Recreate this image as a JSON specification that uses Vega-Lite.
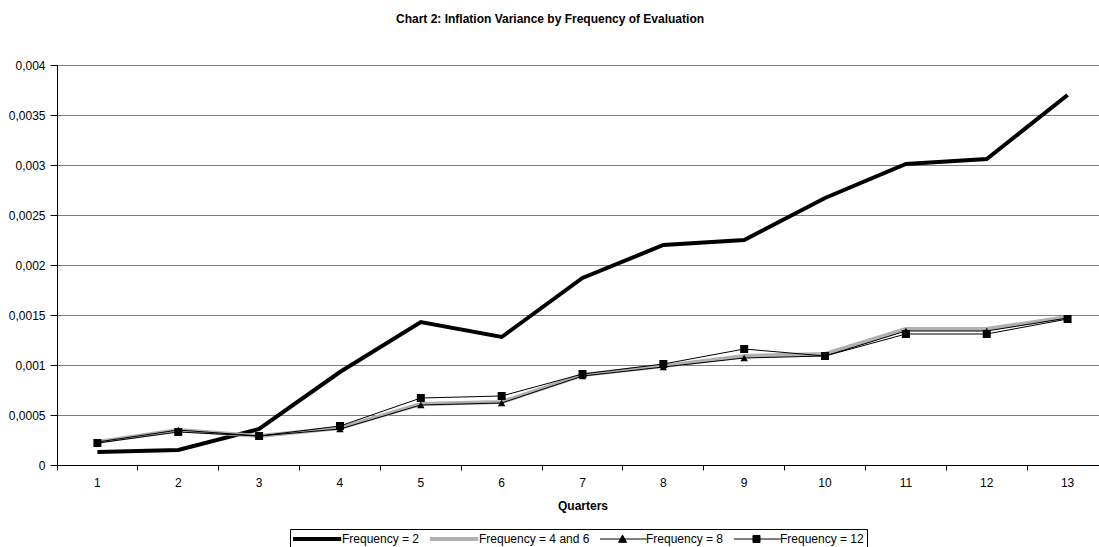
{
  "$schema": "https://vega.github.io/schema/vega-lite/v6.json",
  "width": 1042,
  "height": 400,
  "autosize": {"type": "none"},
  "padding": {"left": 57, "top": 65, "right": 0, "bottom": 82},
  "background": "white",
  "title": {
    "text": "Chart 2: Inflation Variance by Frequency of Evaluation",
    "font": "Liberation Sans",
    "fontSize": 12,
    "fontWeight": "bold",
    "color": "black",
    "anchor": "middle",
    "dx": -28,
    "baseline": "bottom",
    "offset": 21
  },
  "config": {
    "view": {"stroke": null},
    "font": "Liberation Sans",
    "axis": {
      "labelFont": "Liberation Sans",
      "labelFontSize": 12,
      "labelColor": "black",
      "titleFont": "Liberation Sans",
      "titleFontSize": 12,
      "titleFontWeight": "bold",
      "titleColor": "black",
      "domainColor": "black",
      "tickColor": "black"
    },
    "legend": {
      "orient": "none",
      "legendX": 233,
      "legendY": 464,
      "direction": "horizontal",
      "strokeColor": "black",
      "padding": 3,
      "labelFont": "Liberation Sans",
      "labelFontSize": 12,
      "labelColor": "black",
      "labelLimit": 300,
      "symbolSize": 1936,
      "symbolStrokeWidth": 1,
      "clipHeight": 14,
      "labelOffset": 1,
      "columnPadding": 10
    }
  },
  "data": {
    "values": [
      {"series": "Frequency = 2", "quarter": 1, "value": 0.00013},
      {"series": "Frequency = 2", "quarter": 2, "value": 0.00015},
      {"series": "Frequency = 2", "quarter": 3, "value": 0.00036},
      {"series": "Frequency = 2", "quarter": 4, "value": 0.00093},
      {"series": "Frequency = 2", "quarter": 5, "value": 0.00143},
      {"series": "Frequency = 2", "quarter": 6, "value": 0.00128},
      {"series": "Frequency = 2", "quarter": 7, "value": 0.00187},
      {"series": "Frequency = 2", "quarter": 8, "value": 0.0022},
      {"series": "Frequency = 2", "quarter": 9, "value": 0.00225},
      {"series": "Frequency = 2", "quarter": 10, "value": 0.00267},
      {"series": "Frequency = 2", "quarter": 11, "value": 0.00301},
      {"series": "Frequency = 2", "quarter": 12, "value": 0.00306},
      {"series": "Frequency = 2", "quarter": 13, "value": 0.0037},
      {"series": "Frequency = 4 and 6", "quarter": 1, "value": 0.00023},
      {"series": "Frequency = 4 and 6", "quarter": 2, "value": 0.00035},
      {"series": "Frequency = 4 and 6", "quarter": 3, "value": 0.00029},
      {"series": "Frequency = 4 and 6", "quarter": 4, "value": 0.00037},
      {"series": "Frequency = 4 and 6", "quarter": 5, "value": 0.00061},
      {"series": "Frequency = 4 and 6", "quarter": 6, "value": 0.00063},
      {"series": "Frequency = 4 and 6", "quarter": 7, "value": 0.0009},
      {"series": "Frequency = 4 and 6", "quarter": 8, "value": 0.00099},
      {"series": "Frequency = 4 and 6", "quarter": 9, "value": 0.00109},
      {"series": "Frequency = 4 and 6", "quarter": 10, "value": 0.00111},
      {"series": "Frequency = 4 and 6", "quarter": 11, "value": 0.00136},
      {"series": "Frequency = 4 and 6", "quarter": 12, "value": 0.00136},
      {"series": "Frequency = 4 and 6", "quarter": 13, "value": 0.00148},
      {"series": "Frequency = 8", "quarter": 1, "value": 0.00023},
      {"series": "Frequency = 8", "quarter": 2, "value": 0.00035},
      {"series": "Frequency = 8", "quarter": 3, "value": 0.00029},
      {"series": "Frequency = 8", "quarter": 4, "value": 0.00036},
      {"series": "Frequency = 8", "quarter": 5, "value": 0.0006},
      {"series": "Frequency = 8", "quarter": 6, "value": 0.00062},
      {"series": "Frequency = 8", "quarter": 7, "value": 0.00089},
      {"series": "Frequency = 8", "quarter": 8, "value": 0.00098},
      {"series": "Frequency = 8", "quarter": 9, "value": 0.00107},
      {"series": "Frequency = 8", "quarter": 10, "value": 0.00109},
      {"series": "Frequency = 8", "quarter": 11, "value": 0.00134},
      {"series": "Frequency = 8", "quarter": 12, "value": 0.00134},
      {"series": "Frequency = 8", "quarter": 13, "value": 0.00147},
      {"series": "Frequency = 12", "quarter": 1, "value": 0.00022},
      {"series": "Frequency = 12", "quarter": 2, "value": 0.00033},
      {"series": "Frequency = 12", "quarter": 3, "value": 0.00029},
      {"series": "Frequency = 12", "quarter": 4, "value": 0.00039},
      {"series": "Frequency = 12", "quarter": 5, "value": 0.00067},
      {"series": "Frequency = 12", "quarter": 6, "value": 0.00069},
      {"series": "Frequency = 12", "quarter": 7, "value": 0.00091},
      {"series": "Frequency = 12", "quarter": 8, "value": 0.00101},
      {"series": "Frequency = 12", "quarter": 9, "value": 0.00116},
      {"series": "Frequency = 12", "quarter": 10, "value": 0.00109},
      {"series": "Frequency = 12", "quarter": 11, "value": 0.00131},
      {"series": "Frequency = 12", "quarter": 12, "value": 0.00131},
      {"series": "Frequency = 12", "quarter": 13, "value": 0.00146}
    ]
  },
  "encoding": {
    "x": {
      "field": "quarter",
      "type": "ordinal",
      "bandPosition": 0.5,
      "scale": {"type": "band", "domain": [1,2,3,4,5,6,7,8,9,10,11,12,13], "range": [0, 1051], "paddingInner": 0, "paddingOuter": 0},
      "axis": {
        "title": "Quarters",
        "labelAngle": 0,
        "bandPosition": 0,
        "grid": false,
        "tickSize": 5,
        "labelPadding": 7,
        "titlePadding": 12
      }
    },
    "y": {
      "field": "value",
      "type": "quantitative",
      "scale": {"domain": [0, 0.004], "nice": false, "zero": true},
      "axis": {
        "title": null,
        "values": [0, 0.0005, 0.001, 0.0015, 0.002, 0.0025, 0.003, 0.0035, 0.004],
        "labelExpr": "replace(format(datum.value, '~g'), '.', ',')",
        "grid": true,
        "gridColor": "#808080",
        "gridWidth": 1,
        "gridOpacity": 1,
        "tickSize": 7,
        "labelPadding": 5
      }
    }
  },
  "layer": [
    {
      "mark": {"type": "line", "strokeJoin": "miter", "clip": false},
      "encoding": {
        "color": {
          "field": "series",
          "type": "nominal",
          "scale": {"domain": ["Frequency = 2", "Frequency = 4 and 6", "Frequency = 8", "Frequency = 12"], "range": ["black", "#b0b0b0", "black", "black"]},
          "legend": {
            "title": null,
            "encode": {
              "symbols": {
                "update": {
                  "shape": {"signal": "datum.value === 'Frequency = 8' ? 'M-1.1,0H1.1M-0.18,0.15L0,-0.18L0.18,0.15Z' : (datum.value === 'Frequency = 12' ? 'M-1.1,0H1.1M-0.16,-0.16H0.16V0.16H-0.16Z' : 'M-1.1,0H1.1')"},
                  "strokeWidth": {"signal": "(datum.value === 'Frequency = 2' || datum.value === 'Frequency = 4 and 6') ? 4 : 1"},
                  "stroke": {"signal": "datum.value === 'Frequency = 4 and 6' ? '#b0b0b0' : 'black'"},
                  "fill": {"signal": "datum.value === 'Frequency = 4 and 6' ? '#b0b0b0' : 'black'"},
                  "opacity": {"value": 1}
                }
              }
            }
          }
        },
        "strokeWidth": {
          "field": "series",
          "type": "nominal",
          "scale": {"type": "ordinal", "domain": ["Frequency = 2", "Frequency = 4 and 6", "Frequency = 8", "Frequency = 12"], "range": [4, 4, 1, 1]},
          "legend": null
        }
      }
    },
    {
      "transform": [{"filter": "datum.series === 'Frequency = 8'"}],
      "mark": {"type": "point", "shape": "triangle-up", "filled": true, "color": "black", "size": 55, "opacity": 1}
    },
    {
      "transform": [{"filter": "datum.series === 'Frequency = 12'"}],
      "mark": {"type": "point", "shape": "square", "filled": true, "color": "black", "size": 64, "opacity": 1}
    }
  ]
}
